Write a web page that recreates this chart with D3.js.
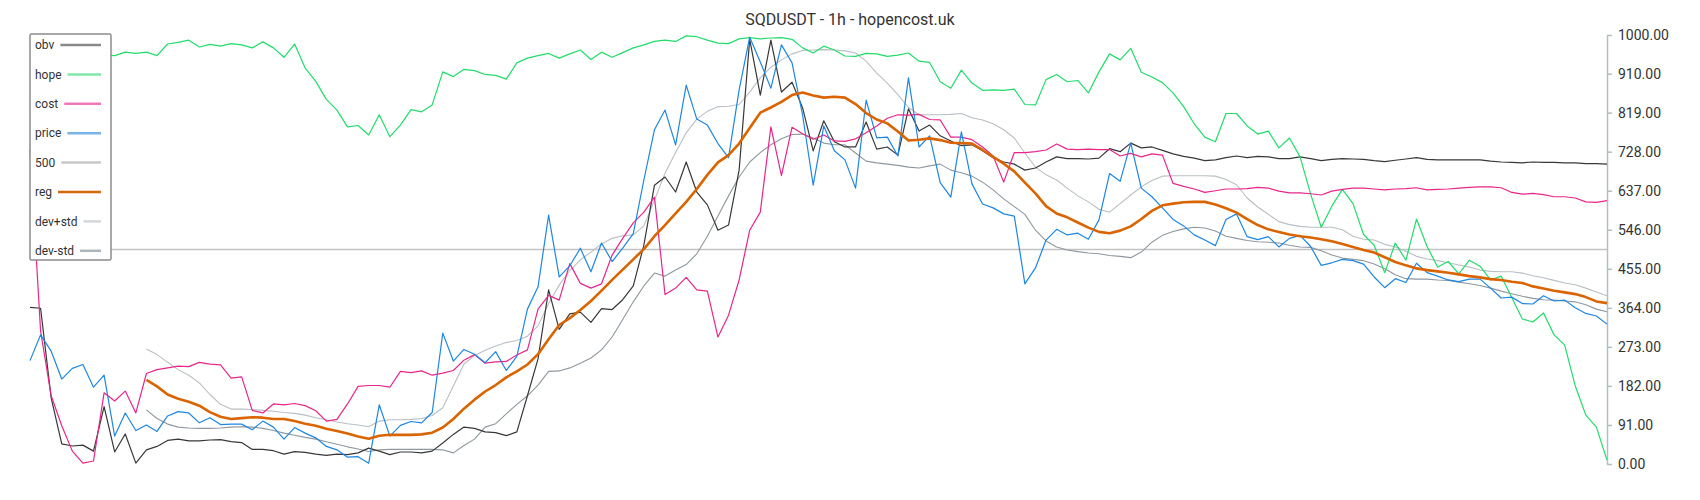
<!DOCTYPE html>
<html>
<head>
<meta charset="utf-8">
<script src="https://cdn.jsdelivr.net/npm/d3@7"></script>
<style>
body { margin: 0; background: #fff; }
svg { display: block; font-family: Roboto, "Noto Sans", sans-serif; }
</style>
</head>
<body>
<div id="chart"></div>
<script>
const title = 'SQDUSDT - 1h - hopencost.uk';

const obv = [365,363,154,47,42,44,30,134,28,70, 2,33,41,55,58,54,54,56,57,52,
	50,34,34,31,23,29,27,23,20,23, 22,26,37,30,22,28,28,26,30,49,
	69,86,83,75,73,66,75,159,245,406, 314,350,354,330,362,360,383,415,510,650,
	669,634,704,634,604,545,557,685,990,860, 988,867,890,830,730,800,751,739,739,797,
	734,739,720,828,776,790,765,753,742,744, 730,714,704,699,685,690,704,716,712,712,
	711,713,735,728,748,737,739,731,723,717, 713,707,709,714,718,714,717,716,712,712,
	716,712,707,710,712,711,710,707,705,708, 711,714,710,709,709,709,709,709,706,704,
	703,702,704,703,703,702,702,700,700,699];

const hope = [965,958,960,970,956,963,958,953,952,960, 957,960,952,979,983,988,972,978,974,980,
	977,970,984,970,948,979,923,892,850,825, 786,789,767,814,763,790,826,821,837,914,
	903,920,917,908,906,897,935,946,952,957, 946,956,965,943,960,948,959,970,977,985,
	988,985,998,996,988,981,980,991,994,991, 993,994,990,970,958,974,965,951,950,957,
	956,950,953,958,939,936,891,876,918,888, 871,872,871,874,838,837,896,908,891,894,
	865,914,956,942,969,913,902,889,865,833, 793,762,751,817,817,788,769,776,737,760,
	716,629,552,601,640,607,535,510,446,515, 475,571,507,459,472,443,475,461,429,438,
	388,338,331,352,301,277,182,114,86,9];

const cost = [732,310,159,89,30,2,7,166,147,170, 119,211,220,224,228,227,237,233,231,200,
	203,125,119,140,138,141,136,124,100,104, 140,181,183,183,179,216,213,217,207,212,
	218,242,255,235,238,239,254,266,361,393, 382,467,421,410,420,487,526,562,587,622,
	395,410,435,406,403,296,347,429,545,587, 786,672,785,770,757,767,753,752,758,772,
	788,806,814,813,815,803,802,762,762,756, 739,718,657,726,726,728,732,746,734,733,
	734,733,733,718,724,716,723,720,654,647, 641,633,637,641,641,642,645,643,636,632,
	632,630,627,636,640,643,643,641,639,641, 642,644,639,640,641,643,645,646,646,644,
	633,629,631,628,623,623,620,611,610,614];

const price = [241,301,263,198,223,232,179,207,65,119, 78,91,76,112,122,119,96,108,92,93,
	93,80,100,86,58,85,72,61,41,33, 16,17,2,138,65,90,99,96,120,305,
	240,267,256,236,262,218,251,361,413,580, 436,462,503,448,515,472,503,537,662,779,
	825,744,883,804,790,747,714,872,995,937, 876,977,935,813,650,788,730,709,643,848,
	760,762,718,900,739,765,656,622,774,653, 606,597,583,578,420,457,522,547,534,538,
	524,569,677,659,748,643,623,597,570,555, 534,522,509,570,583,530,523,530,506,526,
	533,507,463,469,477,474,466,436,411,432, 423,468,446,438,429,425,431,431,410,387,
	389,374,373,392,380,382,364,351,345,326];

const level500 = 500;

const reg = [null,null,null,null,null,null,null,null,null,null, null,196,181,162,152,145,136,121,110,105,
	107,109,108,105,105,100,94,89,82,77, 71,64,59,66,68,68,68,69,73,85,
	105,129,150,169,184,202,216,232,256,291, 324,340,359,380,404,429,453,477,501,531,
	557,584,611,641,674,703,720,747,783,819, 831,844,860,866,859,854,856,854,839,818,
	803,794,775,754,756,759,755,749,748,747, 732,716,700,682,656,631,601,584,575,563,
	551,541,538,544,554,571,590,603,607,610, 611,611,605,596,586,571,557,547,541,535,
	531,528,524,519,513,506,499,493,482,471, 463,456,452,449,446,442,438,435,431,429,
	425,422,414,409,404,400,396,389,379,375];

const devUp = [null,null,null,null,null,null,null,null,null,null, null,268,255,237,220,207,189,162,139,128,
	128,127,125,123,120,118,114,108,103,98, 94,91,87,100,103,103,104,106,113,131,
	182,233,253,265,275,283,288,298,322,374, 417,451,476,494,513,526,532,534,555,615,
	678,726,772,804,822,833,834,838,867,900, 925,942,956,964,965,966,965,963,958,939,
	911,888,861,831,814,814,814,815,817,807, 802,793,779,760,725,692,674,662,643,625,
	611,594,587,607,627,646,661,671,672,672, 672,672,671,663,651,620,599,582,565,558,
	554,552,552,552,546,531,524,522,512,506, 496,484,478,474,469,464,459,452,449,448,
	448,445,439,434,428,422,418,410,401,392];

const devDn = [null,null,null,null,null,null,null,null,null,null, null,126,106,93,86,84,83,83,84,86,
	87,86,83,78,72,67,62,58,52,46, 40,35,29,33,34,34,34,34,34,33,
	26,43,58,86,94,117,139,159,184,216, 217,224,235,247,266,296,337,378,415,445,
	438,452,465,490,531,578,625,669,704,726, 744,758,768,769,760,748,744,744,725,706,
	702,699,696,692,690,695,699,685,679,671, 657,639,618,600,582,545,520,506,499,495,
	492,490,486,484,481,494,517,533,542,548, 552,550,543,531,526,521,518,517,515,510,
	506,505,497,487,480,477,474,466,455,441, 432,431,431,429,428,424,420,416,410,403,
	397,391,386,383,382,380,378,371,361,355];

const yTicks = [0, 91, 182, 273, 364, 455, 546, 637, 728, 819, 910, 1000];

const width = 1700;
const height = 500;
const margin = {top: 35, right: 93, bottom: 36, left: 30};

const svg = d3.select('#chart').append('svg')
	.attr('width', width)
	.attr('height', height);

svg.append('rect').attr('width', width).attr('height', height).attr('fill', '#fff');

const x = d3.scaleLinear().domain([0, price.length - 1]).range([margin.left, width - margin.right]);
const y = d3.scaleLinear().domain([0, 1000]).range([height - margin.bottom, margin.top]);

svg.append('text')
	.attr('x', width / 2)
	.attr('y', 25)
	.attr('text-anchor', 'middle')
	.attr('font-size', '16px')
	.attr('fill', '#333')
	.text(title);

const yAxis = d3.axisRight(y).tickValues(yTicks).tickFormat(d => d.toFixed(2))
	.tickSize(5).tickSizeOuter(0).tickPadding(6);

svg.append('g')
	.attr('transform', `translate(${width - margin.right},0)`)
	.call(yAxis)
	.call(g => g.select('.domain').attr('stroke', '#b3bdc4').attr('stroke-width', 1.5))
	.call(g => g.selectAll('.tick line').attr('stroke', '#b3bdc4').attr('stroke-width', 1.5))
	.call(g => g.selectAll('.tick text')
		.attr('fill', '#333')
		.attr('font-size', '14px')
		.attr('font-family', 'Roboto, sans-serif'));

svg.append('line')
	.attr('x1', x(0)).attr('x2', x(price.length - 1))
	.attr('y1', y(level500)).attr('y2', y(level500))
	.attr('stroke', '#c2c2c2')
	.attr('stroke-width', 1.6);

const series = [
	{name: 'dev+std', values: devUp, color: '#b9bfc5', w: 1.1},
	{name: 'dev-std', values: devDn, color: '#8f989f', w: 1.1},
	{name: 'obv', values: obv, color: '#383838', w: 1.2},
	{name: 'hope', values: hope, color: '#22dc6c', w: 1.2},
	{name: 'cost', values: cost, color: '#e8268a', w: 1.2},
	{name: 'price', values: price, color: '#1e86e3', w: 1.2},
	{name: 'reg', values: reg, color: '#d96400', w: 2.6}
];

const line = d3.line()
	.defined(d => d != null)
	.x((d, i) => x(i))
	.y(d => y(d));

svg.append('g')
	.selectAll('path')
	.data(series)
	.enter().append('path')
	.attr('d', d => line(d.values))
	.attr('fill', 'none')
	.attr('stroke', d => d.color)
	.attr('stroke-width', d => d.w)
	.attr('stroke-linejoin', 'round');

const legendItems = [
	{name: 'obv', color: '#8a8a8a'},
	{name: 'hope', color: '#80e8a8'},
	{name: 'cost', color: '#ef78b8'},
	{name: 'price', color: '#78b4e8'},
	{name: '500', color: '#c8c8c8'},
	{name: 'reg', color: '#d6680c'},
	{name: 'dev+std', color: '#d3d7db'},
	{name: 'dev-std', color: '#adb5bc'}
];

const legend = svg.append('g').attr('transform', 'translate(30,34)');
legend.append('rect')
	.attr('width', 81)
	.attr('height', 226)
	.attr('rx', 1.5)
	.attr('fill', '#fff')
	.attr('stroke', '#8c8c8c')
	.attr('stroke-width', 1.5);

const items = legend.selectAll('g.item')
	.data(legendItems)
	.enter().append('g')
	.attr('class', 'item')
	.attr('transform', (d, i) => `translate(0,${11 + i * 29.4})`);

items.append('text')
	.attr('x', 5)
	.attr('dy', '0.35em')
	.attr('font-size', '12px')
	.attr('fill', '#333')
	.text(d => d.name);

items.each(function(d) {
	const g = d3.select(this);
	const tw = g.select('text').node().getComputedTextLength();
	g.append('line')
		.attr('x1', 5 + tw + 6)
		.attr('x2', 71)
		.attr('stroke', d.color)
		.attr('stroke-width', 2.5);
});
</script>
</body>
</html>
